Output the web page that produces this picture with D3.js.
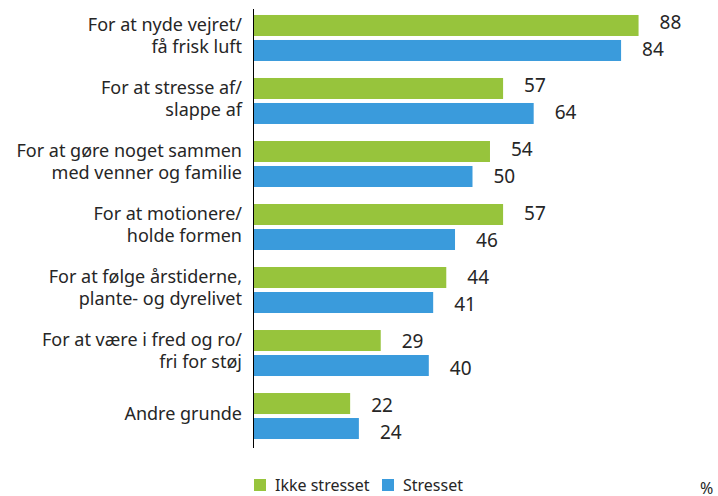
<!DOCTYPE html>
<html>
<head>
<meta charset="utf-8">
<script src="https://cdn.jsdelivr.net/npm/d3@7"></script>
<style>
  html, body { margin: 0; padding: 0; background: #fff; }
  svg { display: block; }
  text { font-family: "Noto Sans", "Open Sans", sans-serif; fill: #262626; }
</style>
</head>
<body>
<svg id="chart" width="718" height="496"></svg>
<script>
// Reasons, each label split into its display lines
const categories = [
  ["For at nyde vejret/", "få frisk luft"],
  ["For at stresse af/", "slappe af"],
  ["For at gøre noget sammen", "med venner og familie"],
  ["For at motionere/", "holde formen"],
  ["For at følge årstiderne,", "plante- og dyrelivet"],
  ["For at være i fred og ro/", "fri for støj"],
  ["Andre grunde"]
];
const seriesNames = ["Ikke stresset", "Stresset"];
const ikkeStresset = [88, 57, 54, 57, 44, 29, 22];
const stresset = [84, 64, 50, 46, 41, 40, 24];
const colors = ["#97c43c", "#3a9bdc"];
const unitLabel = "%";

const rows = categories.map((lines, i) => ({
  key: lines.join(" "),
  lines,
  values: [ikkeStresset[i], stresset[i]]
}));

const svg = d3.select("#chart");

const x = d3.scaleLinear().domain([0, 100]).range([254, 691]);

const y = d3.scaleBand()
  .domain(rows.map(d => d.key))
  .range([9, 445])
  .paddingInner(0.27)
  .paddingOuter(0.095);

// Value labels sit on a slightly wider pitch than the bars
const yLabel = y.copy().range([9, 451.2]);

const ySub = d3.scaleBand()
  .domain(seriesNames)
  .range([0, y.bandwidth()])
  .paddingInner(0.16);

const color = d3.scaleOrdinal().domain(seriesNames).range(colors);

// Groups of bars
const groups = svg.append("g")
  .selectAll("g")
  .data(rows)
  .join("g")
  .attr("transform", d => `translate(0,${y(d.key)})`);

const items = d => seriesNames.map((s, j) => ({ series: s, value: d.values[j], j, key: d.key }));

groups.selectAll("rect")
  .data(items)
  .join("rect")
  .attr("x", x(0))
  .attr("y", d => ySub(d.series))
  .attr("width", d => x(d.value) - x(0))
  .attr("height", ySub.bandwidth())
  .attr("fill", d => color(d.series));

// Value labels to the right of each bar
svg.append("g")
  .selectAll("text")
  .data(rows.flatMap(items))
  .join("text")
  .attr("x", d => x(d.value) + 21)
  .attr("y", d => yLabel(d.key) + ySub(d.series) + ySub.bandwidth() / 2 + (d.j === 0 ? 3 : 5))
  .attr("font-size", 19)
  .text(d => d.value);

// Category labels, right-aligned against the axis
groups.append("text")
  .attr("class", "cat")
  .attr("text-anchor", "end")
  .attr("font-size", 18)
  .selectAll("tspan")
  .data(d => d.lines.map((t, i) => ({ t, i, n: d.lines.length })))
  .join("tspan")
  .attr("x", 242)
  .attr("y", d => y.bandwidth() / 2 + 4 + (d.i - (d.n - 1) / 2) * 22)
  .text(d => d.t);

// Vertical baseline
svg.append("line")
  .attr("x1", x(0) - 0.5).attr("x2", x(0) - 0.5)
  .attr("y1", 9).attr("y2", 448)
  .attr("stroke", "#000")
  .attr("stroke-width", 1);

// Legend
const legendX = [254, 382];
const legend = svg.append("g")
  .selectAll("g")
  .data(seriesNames)
  .join("g")
  .attr("transform", (d, i) => `translate(${legendX[i]},479)`);

legend.append("rect")
  .attr("width", 12).attr("height", 12)
  .attr("fill", d => color(d));

legend.append("text")
  .attr("x", 21).attr("y", 11.5)
  .attr("font-size", 16)
  .text(d => d);

svg.append("text")
  .attr("x", 700).attr("y", 494)
  .attr("font-size", 16)
  .text(unitLabel);
</script>
</body>
</html>
